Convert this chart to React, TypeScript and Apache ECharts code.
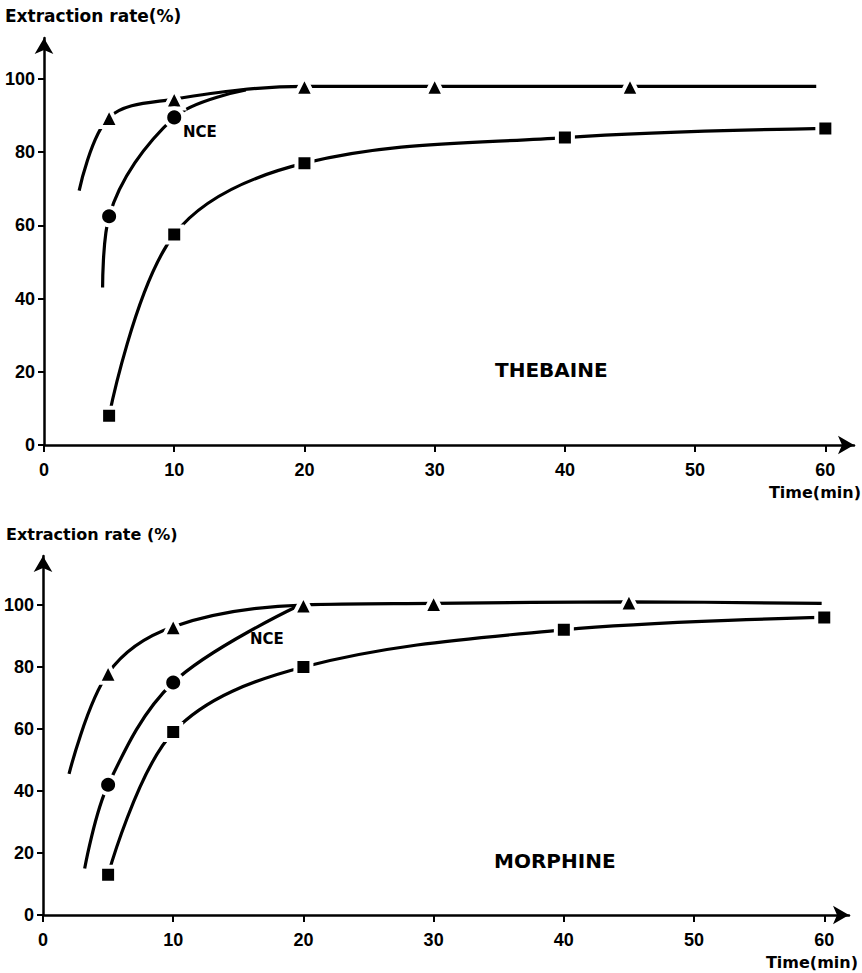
import React, { useEffect, useRef } from "react";
import * as echarts from "echarts";

type Pt = [number, number];

// Time (min) ticks and extraction-rate ticks
const timeTicks = [0, 10, 20, 30, 40, 50, 60];
const rateTicks = [0, 20, 40, 60, 80, 100];

// THEBAINE — measured points (marked) and unmarked curve ends
const thebaineTriangle: Pt[] = [[5, 89.5], [10, 94.5], [20, 98], [30, 98], [45, 98]];
const thebaineTriangleEnds: Pt[] = [[2.7, 69.5], [59.3, 98]];
const thebaineCircle: Pt[] = [[5, 62.5], [10, 89.5]];
const thebaineCircleEnds: Pt[] = [[4.5, 43], [15.5, 97]];
const thebaineSquare: Pt[] = [[5, 8], [10, 57.5], [20, 77], [40, 84], [60, 86.5]];

// MORPHINE — measured points (marked) and unmarked curve ends
const morphineTriangle: Pt[] = [[5, 78], [10, 93], [20, 100], [30, 100.5], [45, 101]];
const morphineTriangleEnds: Pt[] = [[2, 45.5], [59.8, 100.5]];
const morphineCircle: Pt[] = [[5, 42], [10, 75]];
const morphineCircleEnds: Pt[] = [[3.2, 15], [19.5, 99.5]];
const morphineSquare: Pt[] = [[5, 13], [10, 59], [20, 80], [40, 92], [60, 96]];

const TICK_FONT = "Liberation Sans";
const TEXT_FONT = "DejaVu Sans";

function curveData(points: Pt[], ends?: Pt[]) {
  const data: any[] = points.map((p) => ({ value: p }));
  if (ends) {
    data.unshift({ value: ends[0], symbol: "none" });
    data.push({ value: ends[1], symbol: "none" });
  }
  return data;
}

function curve(
  name: string,
  idx: number,
  symbol: string,
  size: number,
  points: Pt[],
  ends?: Pt[]
) {
  return {
    name,
    type: "line",
    xAxisIndex: idx,
    yAxisIndex: idx,
    smooth: 0.35,
    symbol,
    symbolSize: size,
    showSymbol: true,
    lineStyle: { color: "#000", width: 3.2 },
    itemStyle: { color: "#000", borderColor: "#fff", borderWidth: 4 },
    data: curveData(points, ends),
    z: 3,
  };
}

function xAxis(gridIndex: number, max: number) {
  return {
    type: "value",
    gridIndex,
    min: 0,
    max,
    axisLine: {
      show: true,
      onZero: false,
      symbol: ["none", "arrow"],
      symbolSize: [14, 16],
      lineStyle: { color: "#000", width: 2.5 },
    },
    axisTick: {
      show: true,
      customValues: timeTicks,
      length: 7,
      lineStyle: { color: "#000", width: 2 },
    },
    axisLabel: {
      customValues: timeTicks,
      margin: 16,
      fontSize: 18,
      fontWeight: "bold",
      fontFamily: TICK_FONT,
      color: "#000",
    },
    splitLine: { show: false },
  };
}

function yAxis(gridIndex: number, max: number) {
  return {
    type: "value",
    gridIndex,
    min: 0,
    max,
    axisLine: {
      show: true,
      onZero: false,
      symbol: ["none", "arrow"],
      symbolSize: [14, 16],
      lineStyle: { color: "#000", width: 2.5 },
    },
    axisTick: {
      show: true,
      customValues: rateTicks,
      length: 6,
      lineStyle: { color: "#000", width: 2 },
    },
    axisLabel: {
      customValues: rateTicks,
      margin: 9,
      fontSize: 18,
      fontWeight: "bold",
      fontFamily: TICK_FONT,
      color: "#000",
    },
    splitLine: { show: false },
  };
}

function label(text: string, x: number, y: number, size: number, align = "left") {
  return {
    type: "text",
    x,
    y,
    style: {
      text,
      fill: "#000",
      font: `bold ${size}px "${TEXT_FONT}"`,
      align,
      verticalAlign: "middle",
    },
  };
}

export default function App() {
  const ref = useRef<HTMLDivElement>(null);

  useEffect(() => {
    if (!ref.current) return;
    const chart = echarts.init(ref.current, null, { renderer: "svg" });
    chart.setOption({
      animation: false,
      backgroundColor: "#fff",
      grid: [
        { left: 44, top: 38, width: 810, height: 407 },
        { left: 43, top: 556, width: 806, height: 359 },
      ],
      xAxis: [xAxis(0, 62.2), xAxis(1, 61.9)],
      yAxis: [yAxis(0, 111.2), yAxis(1, 115.8)],
      series: [
        curve("Thebaine ▲", 0, "triangle", 19, thebaineTriangle, thebaineTriangleEnds),
        curve("Thebaine NCE", 0, "circle", 18, thebaineCircle, thebaineCircleEnds),
        curve("Thebaine ■", 0, "rect", 16, thebaineSquare),
        curve("Morphine ▲", 1, "triangle", 19, morphineTriangle, morphineTriangleEnds),
        curve("Morphine NCE", 1, "circle", 18, morphineCircle, morphineCircleEnds),
        curve("Morphine ■", 1, "rect", 16, morphineSquare),
      ],
      graphic: [
        label("Extraction rate(%)", 5, 16, 17),
        label("Extraction rate (%)", 6, 534, 16),
        label("Time(min)", 861, 492, 16, "right"),
        label("Time(min)", 858, 962, 16, "right"),
        label("NCE", 183, 132, 15),
        label("NCE", 250, 639, 15),
        label("THEBAINE", 495, 370, 20),
        label("MORPHINE", 494, 861, 20),
      ],
    });
    return () => chart.dispose();
  }, []);

  return (
    <div
      ref={ref}
      style={{ position: "fixed", left: 0, top: 0, width: 862, height: 973, background: "#fff" }}
    />
  );
}
